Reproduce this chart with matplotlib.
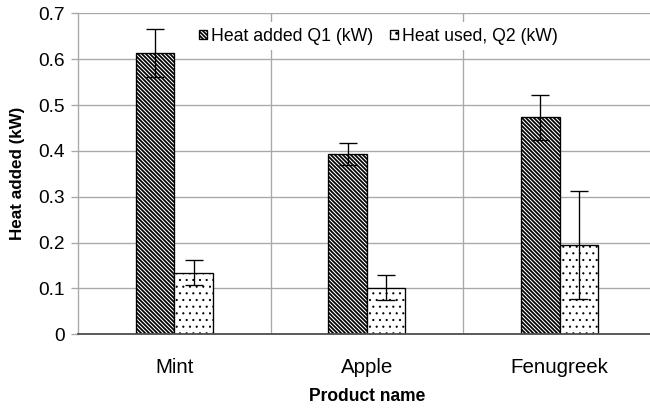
import numpy as np
import matplotlib
matplotlib.use('Agg')
import matplotlib.pyplot as plt

plt.rcParams['font.family'] = ['Liberation Sans', 'DejaVu Sans']

products = ['Mint', 'Apple', 'Fenugreek']
q1 = [0.613, 0.393, 0.473]      # Heat added Q1 (kW)
q1_err = [0.052, 0.024, 0.049]
q2 = [0.134, 0.102, 0.195]      # Heat used, Q2 (kW)
q2_err = [0.027, 0.028, 0.117]

dpi = 120
fig = plt.figure(figsize=(650 / dpi, 408 / dpi), dpi=dpi)
ax = fig.add_axes([0.12, 0.1806, 0.889, 0.7868])

x = np.arange(len(products))
w = 0.2
grid_col = '#a8a8a8'


def hatched_bars(pos, vals, hatch, hlw, label):
    # hatch line width is read when the patches are made (mpl 3.10)
    with plt.rc_context({'hatch.linewidth': hlw}):
        bars = ax.bar(pos, vals, w, color='white', edgecolor='black', linewidth=0.8,
                      hatch=hatch, label=label, zorder=2)
    for b in bars:
        if hasattr(b, 'set_hatch_linewidth'):
            b.set_hatch_linewidth(hlw)
    return bars


hatched_bars(x - w / 2, q1, '\\' * 10, 1.05, 'Heat added Q1 (kW)')
hatched_bars(x + w / 2, q2, '...', 0.5, 'Heat used, Q2 (kW)')
ax.errorbar(x - w / 2, q1, yerr=q1_err, fmt='none', ecolor='black',
            elinewidth=0.8, capsize=5.4, capthick=0.8, zorder=3)
ax.errorbar(x + w / 2, q2, yerr=q2_err, fmt='none', ecolor='black',
            elinewidth=0.8, capsize=5.4, capthick=0.8, zorder=3)

ax.set_xlim(-0.5, 2.5)
ax.set_ylim(0, 0.7)
ax.set_yticks(np.arange(0, 0.71, 0.1))
ax.set_yticklabels(['0', '0.1', '0.2', '0.3', '0.4', '0.5', '0.6', '0.7'])
ax.set_xticks(x)
ax.set_xticklabels(products, fontsize=12.3)
ax.set_xticks([0.5, 1.5], minor=True)

ax.tick_params(axis='y', labelsize=11.5, length=4.2, width=0.8, color=grid_col, pad=3.6)
ax.tick_params(axis='x', which='both', length=0, pad=14)
ax.grid(axis='y', which='major', color=grid_col, linewidth=0.8)
ax.grid(axis='x', which='minor', color=grid_col, linewidth=0.8)
ax.set_axisbelow(True)

for s in ['top', 'right']:
    ax.spines[s].set_visible(False)
ax.spines['left'].set_color(grid_col)
ax.spines['left'].set_linewidth(0.8)
ax.spines['bottom'].set_color('#505050')
ax.spines['bottom'].set_linewidth(1.1)

ax.set_ylabel('Heat added (kW)', fontsize=10.2, fontweight='bold', labelpad=8)
ax.set_xlabel('Product name', fontsize=10.5, fontweight='bold', labelpad=7)

leg = ax.legend(loc='center', bbox_to_anchor=(0.52, 0.929), ncol=2, fontsize=10.6,
                frameon=True, fancybox=False, framealpha=1, borderpad=0.3,
                handlelength=0.45, handleheight=0.45, handletextpad=0.25,
                columnspacing=0.9)
leg.get_frame().set_edgecolor('none')
leg.get_frame().set_facecolor('white')

fig.savefig('out.png', dpi=dpi)
